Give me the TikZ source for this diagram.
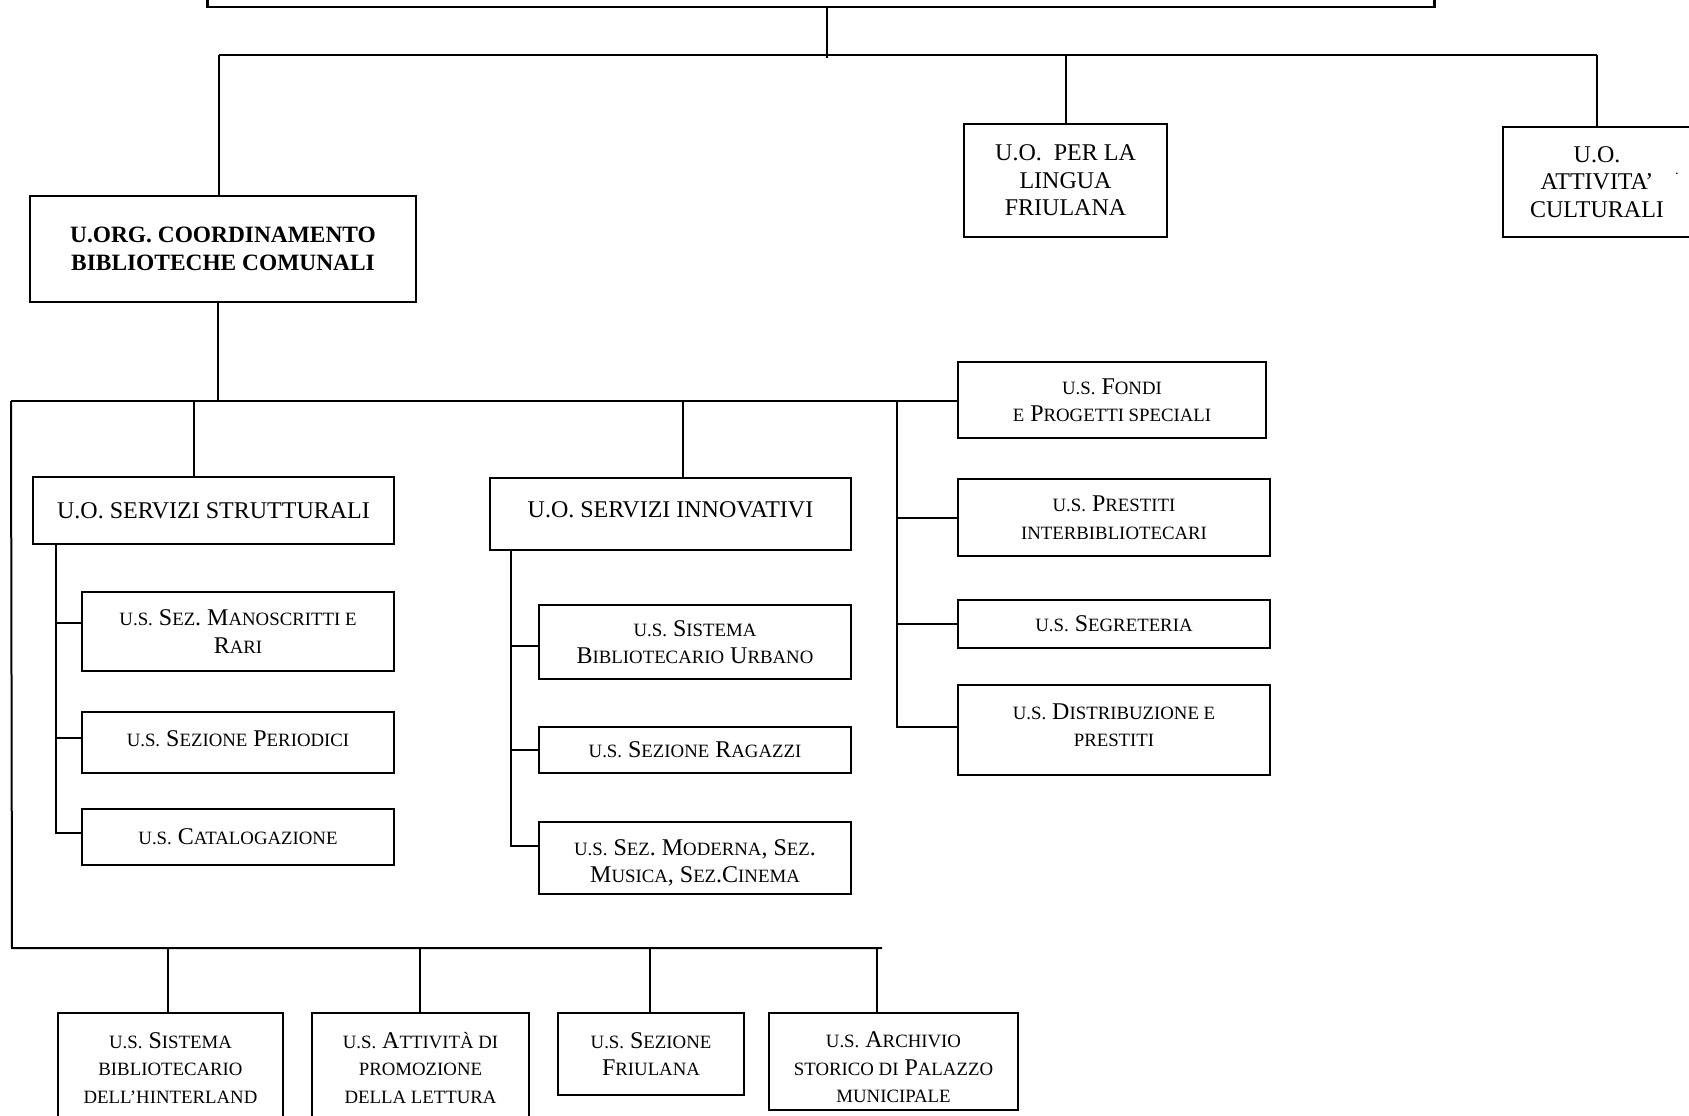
\documentclass[tikz,border=0pt]{standalone}
\usepackage{fontspec}
\setmainfont{Liberation Serif}
\newcommand\bigf{\fontsize{24}{27.5}\selectfont}
\newcommand\boldf{\fontsize{23.4}{27.5}\selectfont\bfseries}
\newcommand\smc[1]{{\fontsize{18.8}{27.5}\selectfont #1}}
\begin{document}
\begin{tikzpicture}[x=1pt,y=-1pt,
  bx/.style={draw,line width=2pt,inner sep=0pt,align=center,font=\bigf},
  txt/.style={inner sep=0pt,align=center,font=\bigf},
  ln/.style={line width=2pt}]
\useasboundingbox (0,0) rectangle (1689,1116);
\clip (0,0) rectangle (1689,1116);

% ---------- top level ----------
\node[bx,line width=2.5pt,minimum width=1227pt,minimum height=37pt] (top) at (821,-11.5) {};
\node[bx,minimum width=386pt,minimum height=106pt,font=\boldf] (coord) at (223,249)
  {U.ORG. COORDINAMENTO\\BIBLIOTECHE COMUNALI};
\node[bx,minimum width=203pt,minimum height=113pt] (lingua) at (1065.5,180.5)
  {U.O.\ \ PER LA\\LINGUA\\FRIULANA};
\node[bx,minimum width=188pt,minimum height=110pt] (attiv) at (1597,182)
  {U.O.\\ATTIVITA’\\CULTURALI};
\node[inner sep=0pt,font=\fontsize{14}{14}\selectfont] (dot) at (1677,176) {·};

% ---------- second level ----------
\node[bx,minimum width=361pt,minimum height=67pt] (ss) at (213.5,510.5)
  {U.O. SERVIZI STRUTTURALI};
\node[bx,minimum width=361pt,minimum height=72pt] (si) at (670.5,514) {};
\node[txt] (siT) at ([yshift=4pt]si.center) {U.O. SERVIZI INNOVATIVI};

\node[bx,minimum width=312pt,minimum height=79pt] (mano) at (238,631.5)
  {\smc{U.S.} S\smc{EZ}. M\smc{ANOSCRITTI E}\\R\smc{ARI}};
\node[bx,minimum width=312pt,minimum height=61pt] (period) at (238,742.5) {};
\node[txt] (periodT) at ([yshift=4pt]period.center)
  {\smc{U.S.} S\smc{EZIONE} P\smc{ERIODICI}};
\node[bx,minimum width=312pt,minimum height=56pt] (catal) at (238,837)
  {\smc{U.S.} C\smc{ATALOGAZIONE}};

\node[bx,minimum width=312pt,minimum height=74pt] (urbano) at (695,642)
  {\smc{U.S.} S\smc{ISTEMA}\\B\smc{IBLIOTECARIO} U\smc{RBANO}};
\node[bx,minimum width=312pt,minimum height=46pt] (ragazzi) at (695,750)
  {\smc{U.S.} S\smc{EZIONE} R\smc{AGAZZI}};
\node[bx,minimum width=312pt,minimum height=72pt] (moderna) at (695,858) {};
\node[txt] (modernaT) at ([yshift=-5pt]moderna.center)
  {\smc{U.S.} S\smc{EZ}. M\smc{ODERNA}, S\smc{EZ}.\\M\smc{USICA}, S\smc{EZ}.C\smc{INEMA}};

\node[bx,minimum width=308pt,minimum height=76pt] (fondi) at (1112,400)
  {\smc{U.S.} F\smc{ONDI}\\\smc{E} P\smc{ROGETTI SPECIALI}};
\node[bx,minimum width=312pt,minimum height=77pt] (prestiti) at (1114,517.5)
  {\smc{U.S.} P\smc{RESTITI}\\\smc{INTERBIBLIOTECARI}};
\node[bx,minimum width=312pt,minimum height=48pt] (segr) at (1114,624)
  {\smc{U.S.} S\smc{EGRETERIA}};
\node[bx,minimum width=312pt,minimum height=90pt] (distr) at (1114,730) {};
\node[txt] (distrT) at ([yshift=5pt]distr.center)
  {\smc{U.S.} D\smc{ISTRIBUZIONE E}\\\smc{PRESTITI}};

% ---------- bottom row ----------
\node[bx,minimum width=225pt,minimum height=110pt] (b1) at (170.5,1068)
  {\smc{U.S.} S\smc{ISTEMA}\\\smc{BIBLIOTECARIO}\\\smc{DELL’HINTERLAND}};
\node[bx,minimum width=217pt,minimum height=110pt] (b2) at (420.5,1068)
  {\smc{U.S.} A\smc{TTIVITÀ DI}\\\smc{PROMOZIONE}\\\smc{DELLA LETTURA}};
\node[bx,minimum width=186pt,minimum height=82pt] (b3) at (651,1054)
  {\smc{U.S.} S\smc{EZIONE}\\F\smc{RIULANA}};
\node[bx,minimum width=249pt,minimum height=97pt] (b4) at (893.5,1061.5) {};
\node[txt] (b4T) at ([yshift=-6pt]b4.center)
  {\smc{U.S.} A\smc{RCHIVIO}\\\smc{STORICO DI} P\smc{ALAZZO}\\\smc{MUNICIPALE}};

% ---------- connectors ----------
\coordinate (j0) at (827,58);
\coordinate (barL) at (219,55);
\coordinate (barR) at (1597,55);
\draw[ln] (top.south -| j0) -- (j0);
\draw[ln] (barL) -- (barR);
\draw[ln] (barL) -- (coord.north -| barL);
\draw[ln] (lingua.north |- barL) -- (lingua.north);
\draw[ln] (barR) -- (attiv.north -| barR);

\coordinate (m0L) at (11,401);
\coordinate (c1) at (218,401);
\coordinate (c2) at (194,401);
\coordinate (c3) at (683,401);
\coordinate (c4) at (897,401);
\draw[ln] (coord.south -| c1) -- (c1);
\draw[ln] (m0L) -- (fondi.west |- m0L);
\draw[ln] (c2) -- (ss.north -| c2);
\draw[ln] (c3) -- (si.north -| c3);

% right column
\draw[ln] (c4) |- ([yshift=3pt]distr.west);
\draw[ln] (prestiti.west -| c4) -- (prestiti.west);
\draw[ln] (segr.west -| c4) -- (segr.west);

% strutturali branch
\coordinate (s0) at (56,544);
\draw[ln] (ss.south -| s0) |- ([yshift=4pt]catal.west);
\draw[ln] ([yshift=8.5pt]mano.west -| s0) -- ([yshift=8.5pt]mano.west);
\draw[ln] ([yshift=4.5pt]period.west -| s0) -- ([yshift=4.5pt]period.west);

% innovativi branch
\coordinate (i0) at (511,550);
\draw[ln] (si.south -| i0) |- ([yshift=12pt]moderna.west);
\draw[ln] ([yshift=-4pt]urbano.west -| i0) -- ([yshift=-4pt]urbano.west);
\draw[ln] (ragazzi.west -| i0) -- (ragazzi.west);

% lower bar
\coordinate (m1L) at (12,948);
\coordinate (m1R) at (882,948);
\coordinate (c5) at (168,948);
\coordinate (c6) at (420,948);
\coordinate (c7) at (650,948);
\coordinate (c8) at (877,948);
\draw[ln] (m0L) -- (m1L) -- (m1R);
\draw[ln] (c5) -- (b1.north -| c5);
\draw[ln] (c6) -- (b2.north -| c6);
\draw[ln] (c7) -- (b3.north -| c7);
\draw[ln] (c8) -- (b4.north -| c8);
\end{tikzpicture}
\end{document}
